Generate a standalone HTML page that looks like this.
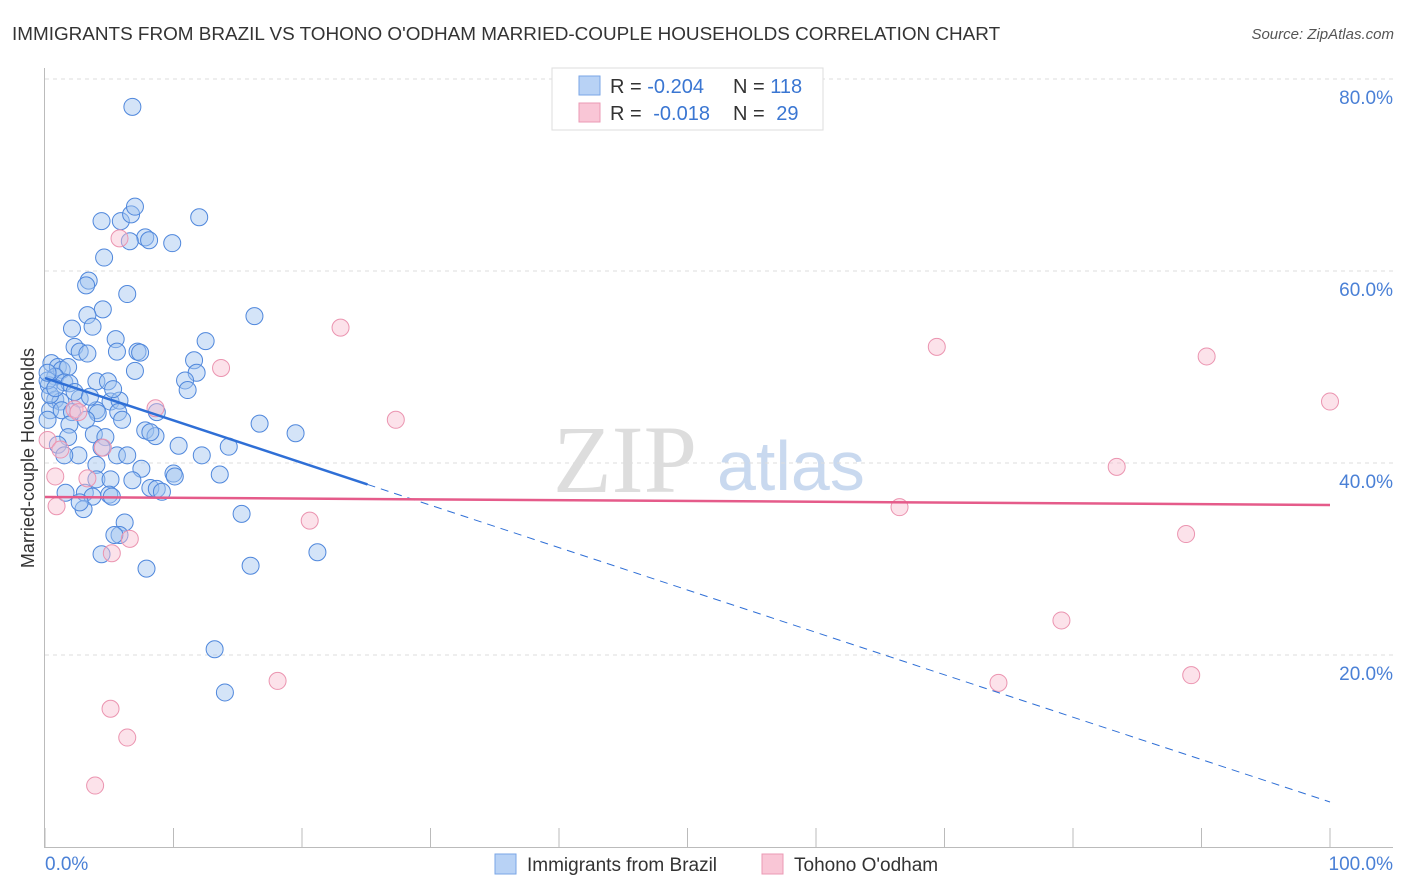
<!DOCTYPE html>
<html><head><meta charset="utf-8"><style>
body{margin:0;background:#fff;font-family:"Liberation Sans",sans-serif}
svg{display:block}
</style></head><body>
<svg id="chart" width="1406" height="892">
<text x="12" y="40" font-size="18.9" fill="#333">IMMIGRANTS FROM BRAZIL VS TOHONO O'ODHAM MARRIED-COUPLE HOUSEHOLDS CORRELATION CHART</text>
<text x="1394" y="39" font-size="15" fill="#555" font-style="italic" text-anchor="end">Source: ZipAtlas.com</text>
<g>
<text x="553" y="492" font-size="96" font-family="Liberation Serif,serif" fill="#ddd">ZIP</text>
<text x="717" y="490" font-size="70" fill="#c9d9ef">atlas</text>
</g>
<g id="grid"></g>
<g id="axes"></g>
<g id="marks"></g>
<text x="34" y="458" font-size="18" fill="#333" text-anchor="middle" transform="rotate(-90 34 458)">Married-couple Households</text>
<g>
<rect x="552" y="68" width="271" height="62" fill="#fff" stroke="#ddd"/>
<rect x="579" y="76" width="21" height="19" fill="#b8d2f5" stroke="#7aa6e6"/>
<rect x="579" y="103" width="21" height="19" fill="#f9c6d6" stroke="#eb9ab4"/>
<text x="610" y="93" font-size="20" fill="#333">R = <tspan fill="#3a76d2">-0.204</tspan></text>
<text x="733" y="93" font-size="20" fill="#333">N = <tspan fill="#3a76d2">118</tspan></text>
<text x="610" y="120" font-size="20" fill="#333">R = <tspan fill="#3a76d2" dx="6">-0.018</tspan></text>
<text x="733" y="120" font-size="20" fill="#333">N = <tspan fill="#3a76d2" dx="6">29</tspan></text>
</g>
<g>
<rect x="495" y="854" width="21" height="20" fill="#b8d2f5" stroke="#7aa6e6"/>
<text x="527" y="871" font-size="19" fill="#333">Immigrants from Brazil</text>
<rect x="762" y="854" width="21" height="20" fill="#f9c6d6" stroke="#eb9ab4"/>
<text x="794" y="871" font-size="19" fill="#333">Tohono O'odham</text>
</g>
<text x="45" y="870" font-size="19" fill="#4a80d6">0.0%</text>
<text x="1393" y="870" font-size="19" fill="#4a80d6" text-anchor="end">100.0%</text>
</svg>
<script>
const blueX=[6.8,4.4,5.9,6.7,7.0,12.0,7.8,6.6,8.1,9.9,4.6,3.4,3.2,6.4,4.5,3.3,16.3,3.7,2.1,5.5,12.5,2.3,2.7,3.3,5.6,7.2,7.4,11.6,11.8,7.0,10.9,11.1,0.5,1.0,1.3,1.8,0.8,1.5,1.9,4.0,4.9,0.3,0.8,1.2,2.7,5.1,5.8,0.4,1.3,2.1,4.0,4.1,5.7,8.7,6.0,3.2,1.9,1.8,3.8,4.7,7.8,8.6,8.2,16.7,19.5,10.4,2.6,5.6,6.4,12.2,14.3,4.0,7.5,10.0,10.1,13.6,4.0,5.1,6.8,8.2,8.7,9.1,1.6,3.1,3.7,5.0,5.2,3.0,2.7,6.2,5.8,5.4,15.3,4.4,7.9,16.0,21.2,13.2,14.0,0.2,0.4,0.2,1.0,1.5,4.4,5.3,2.3,0.8,0.2,3.5];
const blueY=[77.1,65.2,65.2,65.9,66.7,65.6,63.5,63.1,63.2,62.9,61.4,59.0,58.5,57.6,56.0,55.4,55.3,54.2,54.0,52.9,52.7,52.1,51.6,51.4,51.6,51.6,51.5,50.7,49.4,49.6,48.6,47.6,50.4,50.0,49.7,50.0,49.0,48.4,48.3,48.5,48.5,48.1,46.6,46.4,46.7,46.4,46.5,45.5,45.5,45.3,45.5,45.2,45.3,45.3,44.5,44.5,44.0,42.7,43.0,42.7,43.4,42.8,43.2,44.1,43.1,41.8,40.8,40.8,40.8,40.8,41.7,39.8,39.4,38.9,38.6,38.8,38.3,38.3,38.2,37.4,37.3,37.0,36.9,36.9,36.5,36.7,36.5,35.2,35.9,33.8,32.5,32.5,34.7,30.5,29.0,29.3,30.7,20.6,16.1,44.5,47.1,48.6,41.9,40.8,41.6,47.7,47.4,47.8,49.4,46.9];
const pinkX=[5.8,23.0,69.4,90.4,13.7,100,8.6,27.3,2.3,2.6,0.2,1.2,4.5,83.4,0.8,3.3,0.9,66.5,20.6,88.8,6.6,5.2,79.1,18.1,74.2,89.2,5.1,6.4,3.9];
const pinkY=[63.4,54.1,52.1,51.1,49.9,46.4,45.7,44.5,45.6,45.3,42.4,41.4,41.6,39.6,38.6,38.4,35.5,35.4,34.0,32.6,32.1,30.6,23.6,17.3,17.1,17.9,14.4,11.4,6.4];
const yTicks=[20,40,60,80];
const yTickLabels=["20.0%","40.0%","60.0%","80.0%"];
const xTicks=[0,10,20,30,40,50,60,70,80,90,100];
const blueFit=[48.85,4.69]; const blueSolidEnd=25.1;
const pinkFit=[36.46,35.63];

const NS="http://www.w3.org/2000/svg";
const sx=v=>45+v*12.85, sy=v=>847-v*9.6;
function mk(parent,tag,attrs){const e=document.createElementNS(NS,tag);for(const k in attrs)e.setAttribute(k,attrs[k]);document.getElementById(parent).appendChild(e);return e;}
yTicks.forEach((t,i)=>{
 const g=mk('grid','line',{x1:45,x2:1393,y1:sy(t),y2:sy(t),stroke:'#ddd','stroke-dasharray':'4 4'});
 
 
 const l=mk('grid','text',{x:1393,y:sy(t)+25,'font-size':19,fill:'#4a80d6','text-anchor':'end'});
 l.textContent=yTickLabels[i];
 
 
});
const ya=mk('axes','line',{x1:44.5,x2:44.5,y1:68,y2:847,stroke:'#bbb'});


const xa=mk('axes','line',{x1:44,x2:1393,y1:847.5,y2:847.5,stroke:'#bbb'});


xTicks.forEach(t=>{
 const tk=mk('axes','line',{x1:sx(t),x2:sx(t),y1:828,y2:847,stroke:'#bbb'});
 
 
});
blueX.forEach((x,i)=>{
 const c=mk('marks','circle',{cx:sx(x),cy:sy(blueY[i]),r:8.5,fill:'rgba(160,195,240,0.45)',stroke:'#4f87dc','stroke-width':1});
 
 
});
pinkX.forEach((x,i)=>{
 const c=mk('marks','circle',{cx:sx(x),cy:sy(pinkY[i]),r:8.5,fill:'rgba(248,190,208,0.45)',stroke:'#eb94b0','stroke-width':1});
 
 
});
const by=x=>blueFit[0]+(blueFit[1]-blueFit[0])*x/100;
const b1=mk('marks','line',{x1:sx(0),y1:sy(by(0)),x2:sx(blueSolidEnd),y2:sy(by(blueSolidEnd)),stroke:'#2f6fd6','stroke-width':2.5});


const b2=mk('marks','line',{x1:sx(blueSolidEnd),y1:sy(by(blueSolidEnd)),x2:sx(100),y2:sy(by(100)),stroke:'#2f6fd6','stroke-width':1,'stroke-dasharray':'8 6'});


const p1=mk('marks','line',{x1:sx(0),y1:sy(pinkFit[0]),x2:sx(100),y2:sy(pinkFit[1]),stroke:'#e55b8a','stroke-width':2.5});


</script>
</body></html>
